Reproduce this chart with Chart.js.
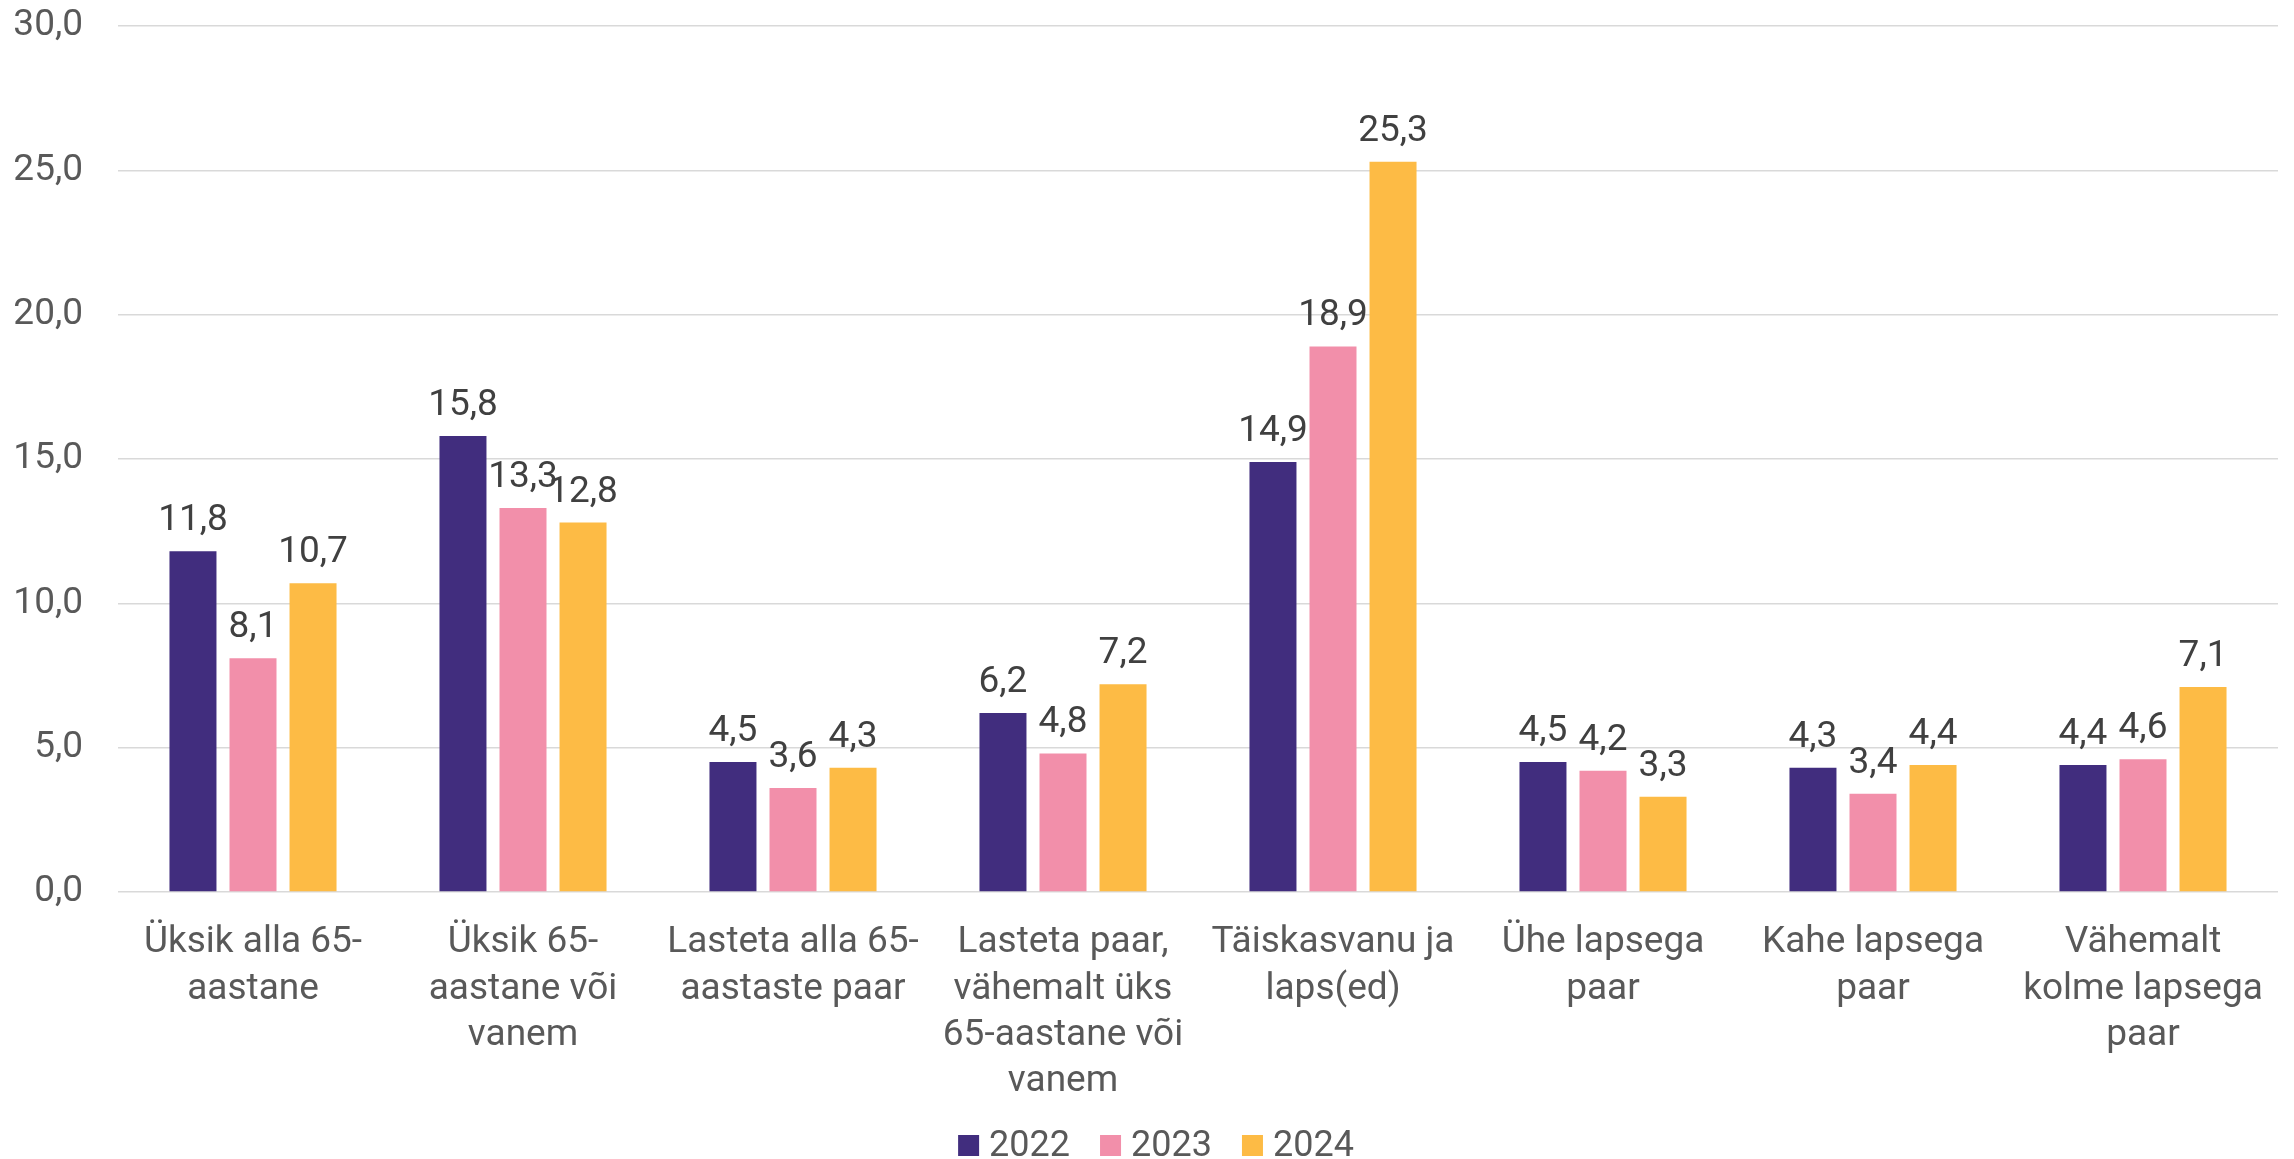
<!DOCTYPE html>
<html>
<head>
<meta charset="utf-8">
<script src="https://cdn.jsdelivr.net/npm/chart.js@4"></script>
<style>
html,body{margin:0;padding:0;background:#fff;}
#wrap{width:2294px;height:1159px;position:relative;}
</style>
</head>
<body>
<div id="wrap"><canvas id="c" width="2294" height="1159"></canvas></div>
<script>
const categories = [
  ["Üksik alla 65-", "aastane"],
  ["Üksik 65-", "aastane või", "vanem"],
  ["Lasteta alla 65-", "aastaste paar"],
  ["Lasteta paar,", "vähemalt üks", "65-aastane või", "vanem"],
  ["Täiskasvanu ja", "laps(ed)"],
  ["Ühe lapsega", "paar"],
  ["Kahe lapsega", "paar"],
  ["Vähemalt", "kolme lapsega", "paar"]
];
const seriesNames = ["2022", "2023", "2024"];
const values2022 = [11.8, 15.8, 4.5, 6.2, 14.9, 4.5, 4.3, 4.4];
const values2023 = [8.1, 13.3, 3.6, 4.8, 18.9, 4.2, 3.4, 4.6];
const values2024 = [10.7, 12.8, 4.3, 7.2, 25.3, 3.3, 4.4, 7.1];
const yTicks = [0, 5, 10, 15, 20, 25, 30];

const colors = ["#412D7E", "#F28FAA", "#FDBB45"];
const FONT = "Roboto";
const FS = 37;
const fmt = v => v.toFixed(1).replace(".", ",");

const dataLabels = {
  id: "dataLabels",
  afterDatasetsDraw(chart) {
    const ctx = chart.ctx;
    ctx.save();
    ctx.font = FS + "px " + FONT;
    ctx.fillStyle = "#404040";
    ctx.textAlign = "center";
    ctx.textBaseline = "alphabetic";
    chart.data.datasets.forEach((ds, i) => {
      const meta = chart.getDatasetMeta(i);
      meta.data.forEach((bar, j) => {
        ctx.fillText(fmt(ds.data[j]), bar.x, bar.y - 21);
      });
    });
    ctx.restore();
  }
};

const customLegend = {
  id: "customLegend",
  afterDraw(chart) {
    const ctx = chart.ctx;
    ctx.save();
    ctx.font = "36px " + FONT;
    const box = 21, gap = 10, itemGap = 30;
    const items = chart.data.datasets.map(d => ({label: d.label, color: d.backgroundColor, w: ctx.measureText(d.label).width}));
    let total = 0;
    items.forEach((it, i) => { total += box + gap + it.w + (i < items.length - 1 ? itemGap : 0); });
    let x = chart.width / 2 + 9 - total / 2;
    const baseline = 1156;
    ctx.textBaseline = "alphabetic";
    ctx.textAlign = "left";
    items.forEach(it => {
      ctx.fillStyle = it.color;
      ctx.fillRect(x, baseline - box, box, box);
      x += box + gap;
      ctx.fillStyle = "#595959";
      ctx.fillText(it.label, x, baseline);
      x += it.w + itemGap;
    });
    ctx.restore();
  }
};

const allSeries = [values2022, values2023, values2024];

new Chart(document.getElementById("c"), {
  type: "bar",
  data: {
    labels: categories,
    datasets: allSeries.map((vals, i) => ({
      label: seriesNames[i],
      data: vals,
      backgroundColor: colors[i],
      borderWidth: 0,
      categoryPercentage: 0.667,
      barPercentage: 0.783
    }))
  },
  options: {
    responsive: false,
    animation: false,
    devicePixelRatio: 1,
    layout: { padding: { left: 13, right: 16, top: 26, bottom: 26 } },
    plugins: {
      legend: { display: false },
      tooltip: { enabled: false }
    },
    scales: {
      x: {
        grid: { display: false, drawTicks: false },
        border: { display: false },
        afterFit: s => { s.paddingLeft = 0; s.paddingRight = 0; },
        ticks: {
          color: "#595959",
          font: { family: FONT, size: FS, lineHeight: 1.25 },
          padding: 28,
          maxRotation: 0,
          autoSkip: false
        }
      },
      y: {
        min: 0,
        max: 30,
        afterBuildTicks: axis => { axis.ticks = yTicks.map(v => ({ value: v })); },
        afterFit: s => { s.paddingTop = 0; s.paddingBottom = 0; s.width = 105; },
        grid: { color: "#D9D9D9", lineWidth: 1.5, drawTicks: false },
        border: { display: false },
        ticks: {
          color: "#595959",
          font: { family: FONT, size: FS },
          padding: 35,
          callback: v => fmt(v)
        }
      }
    }
  },
  plugins: [dataLabels, customLegend]
});
</script>
</body>
</html>
